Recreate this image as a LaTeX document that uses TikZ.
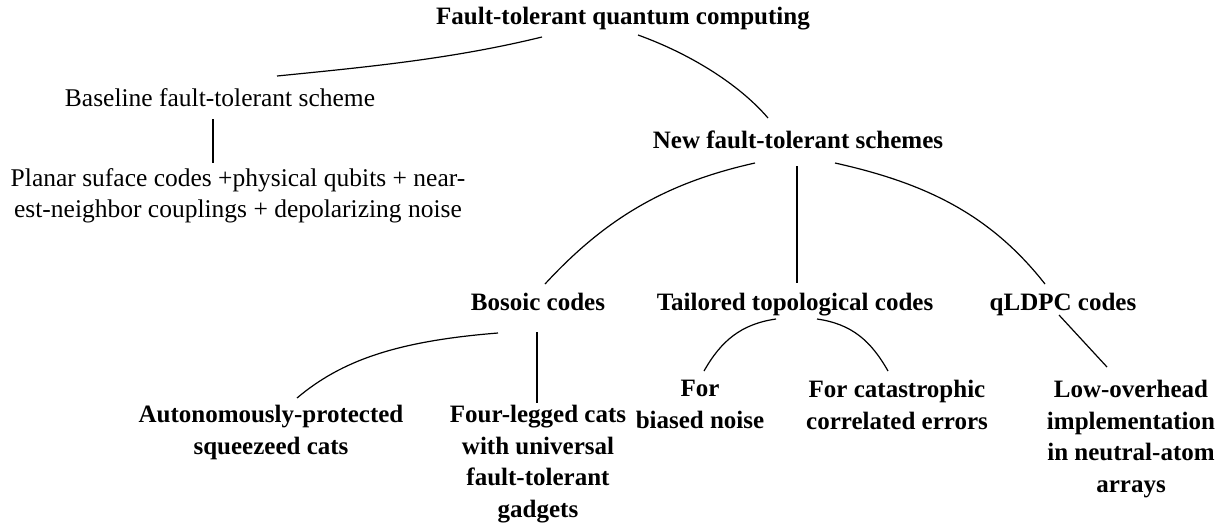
\documentclass[tikz,border=0pt]{standalone}
\usepackage{fontspec}
\setmainfont{Liberation Serif}
\begin{document}
\begin{tikzpicture}[x=1pt,y=-1pt,
  lbl/.style={inner sep=0pt, align=center, anchor=north, font=\fontsize{25.5}{31.7}\selectfont},
  bl/.style={lbl, font=\fontsize{25}{31.7}\selectfont\bfseries},
  conn/.style={line width=1.2pt}]
\useasboundingbox (0,0) rectangle (1225,523);
\node[bl] (title) at (623,7) {Fault-tolerant quantum computing};
\node[lbl] (base) at (220,88) {Baseline fault-tolerant scheme};
\node[lbl] (planar) at (238,168) {Planar suface codes +physical qubits + near-\\est-neighbor couplings + depolarizing noise};
\node[bl] (new) at (798,131) {New fault-tolerant schemes};
\node[bl] (boso) at (538,293) {Bosoic codes};
\node[bl] (tail) at (795,293) {Tailored topological codes};
\node[bl] (qldpc) at (1063,293) {qLDPC codes};
\node[bl] (auto) at (271,405) {Autonomously-protected\\squeezeed cats};
\node[bl] (four) at (538,405) {Four-legged cats\\with universal\\fault-tolerant\\gadgets};
\node[bl] (biased) at (700,380) {For\\biased noise};
\node[bl] (cata) at (897,380) {For catastrophic\\correlated errors};
\node[bl] (low) at (1131,380) {Low-overhead\\implementation\\in neutral-atom\\arrays};
\draw[conn] ([shift={(-81,30)}]title.north) .. controls +(-90,22) and +(90,-9) .. ([shift={(57,-12)}]base.north);
\draw[conn] ([shift={(15,28)}]title.north) .. controls +(50,18) and +(-30,-35) .. ([shift={(-30,-13)}]new.north);
\draw[conn] ([shift={(-7,31)}]base.north) -- ([shift={(-25,-5)}]planar.north);
\draw[conn] ([shift={(-43,32)}]new.north) .. controls +(-90,20) and +(60,-65) .. ([shift={(7,-9)}]boso.north);
\draw[conn] ([shift={(-1,35)}]new.north) -- ([shift={(2,-10)}]tail.north);
\draw[conn] ([shift={(37,32)}]new.north) .. controls +(90,20) and +(-55,-70) .. ([shift={(-18,-9)}]qldpc.north);
\draw[conn] ([shift={(-40,40)}]boso.north) .. controls +(-100,8) and +(45,-38) .. ([shift={(26,-7)}]auto.north);
\draw[conn] ([shift={(-1,39)}]boso.north) -- ([shift={(-1,-2)}]four.north);
\draw[conn] ([shift={(-19,26)}]tail.north) .. controls +(-35,5) and +(17,-30) .. ([shift={(4,-9)}]biased.north);
\draw[conn] ([shift={(22,26)}]tail.north) .. controls +(35,5) and +(-17,-30) .. ([shift={(-9,-9)}]cata.north);
\draw[conn] ([shift={(-4,22)}]qldpc.north) -- ([shift={(-24,-13)}]low.north);
\end{tikzpicture}
\end{document}
